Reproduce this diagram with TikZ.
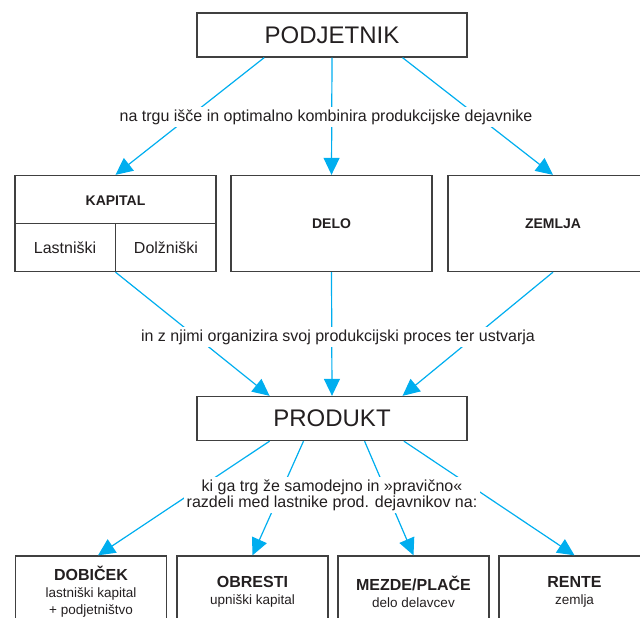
\documentclass[tikz,border=0pt]{standalone}
\usepackage{fontspec}
\setmainfont{Liberation Sans}
\usetikzlibrary{arrows.meta,calc}
\definecolor{flowblue}{HTML}{00AEEF}
\definecolor{boxgray}{HTML}{404040}
\definecolor{inkgray}{HTML}{231F20}

\begin{document}
\begin{tikzpicture}[
  x = 1pt, y = -1pt,
  every node/.style = {text = inkgray},
  big/.style = {draw = boxgray, line width = 1.3pt, minimum width = 270pt, minimum height = 44pt, font = \fontsize{24}{28}\selectfont},
  factor/.style = {draw = boxgray, line width = 1.3pt, minimum width = 201pt, minimum height = 96pt, font = \fontsize{14}{16}\selectfont\bfseries},
  share/.style = {draw = boxgray, line width = 1.3pt, minimum width = 151pt, minimum height = 72pt, align = center, font = \fontsize{13.5}{17}\selectfont},
  note/.style = {fill = white, align = center, inner sep = 3pt, font = \fontsize{16}{16}\selectfont},
  flow/.style = {draw = flowblue, line width = 1.2pt, -{Triangle[length = 17pt, width = 16pt]}},
  ]
  \useasboundingbox (0,0) rectangle (640,618);
  \clip (0,0) rectangle (640,618);

  % entrepreneur
  \node[big] (podjetnik) at (332,35) {PODJETNIK};

  % production factors
  \node[factor] (kapital) at (115.5,223.5) {};
  \draw[boxgray, line width = 1.3pt] (kapital.west) -- (kapital.east);
  \draw[boxgray, line width = 1.3pt] (kapital.center) -- (kapital.south);
  \node[font = \fontsize{14}{16}\selectfont\bfseries] (kapitalname) at (115.5,201) {KAPITAL};
  \node[font = \fontsize{16}{18}\selectfont] (lastniski) at (65,248) {Lastniški};
  \node[font = \fontsize{16}{18}\selectfont] (dolzniski) at (166,248) {Dolžniški};
  \node[factor] (delo) at (331.5,223.5) {DELO};
  \node[factor, minimum width = 210pt] (zemlja) at (553,223.5) {ZEMLJA};

  % product
  \node[big] (produkt) at (332,418.5) {PRODUKT};

  % shares
  \node[share] (dobicek) at (91,592) {{\fontsize{16}{18}\selectfont\bfseries DOBIČEK}\\lastniški kapital\\+ podjetništvo};
  \node[share] (obresti) at (252.5,592) {{\fontsize{16}{18}\selectfont\bfseries OBRESTI}\\upniški kapital};
  \node[share] (mezde) at (413.5,592) {{\fontsize{16}{18}\selectfont\bfseries MEZDE/PLAČE}\\delo delavcev};
  \node[share] (rente) at (574.5,592) {{\fontsize{16}{18}\selectfont\bfseries RENTE}\\zemlja};

  % connectors
  \draw[flow] ($(podjetnik.south)!0.5!(podjetnik.south west)$) -- (kapital.north);
  \draw[flow] (podjetnik.south) -- (delo.north);
  \draw[flow] ($(podjetnik.south)!0.52!(podjetnik.south east)$) -- (zemlja.north);

  \draw[flow] (kapital.south) -- ($(produkt.north)!0.46!(produkt.north west)$);
  \draw[flow] (delo.south) -- (produkt.north);
  \draw[flow] (zemlja.south) -- ($(produkt.north)!0.52!(produkt.north east)$);

  \draw[flow] ($(produkt.south)!0.46!(produkt.south west)$) -- ($(dobicek.north)+(7,0)$);
  \draw[flow] ($(produkt.south)!0.21!(produkt.south west)$) -- (obresti.north);
  \draw[flow] ($(produkt.south)!0.24!(produkt.south east)$) -- (mezde.north);
  \draw[flow] ($(produkt.south)!0.53!(produkt.south east)$) -- (rente.north);

  % labels on the connectors
  \node[note] (search) at (326,117) {na trgu išče in optimalno kombinira produkcijske dejavnike};
  \node[note] (organize) at (338,337) {in z njimi organizira svoj produkcijski proces ter ustvarja};
  \node[note] (divide) at (332,495) {ki ga trg že samodejno in »pravično«\\razdeli med lastnike prod. dejavnikov na:};
\end{tikzpicture}
\end{document}
